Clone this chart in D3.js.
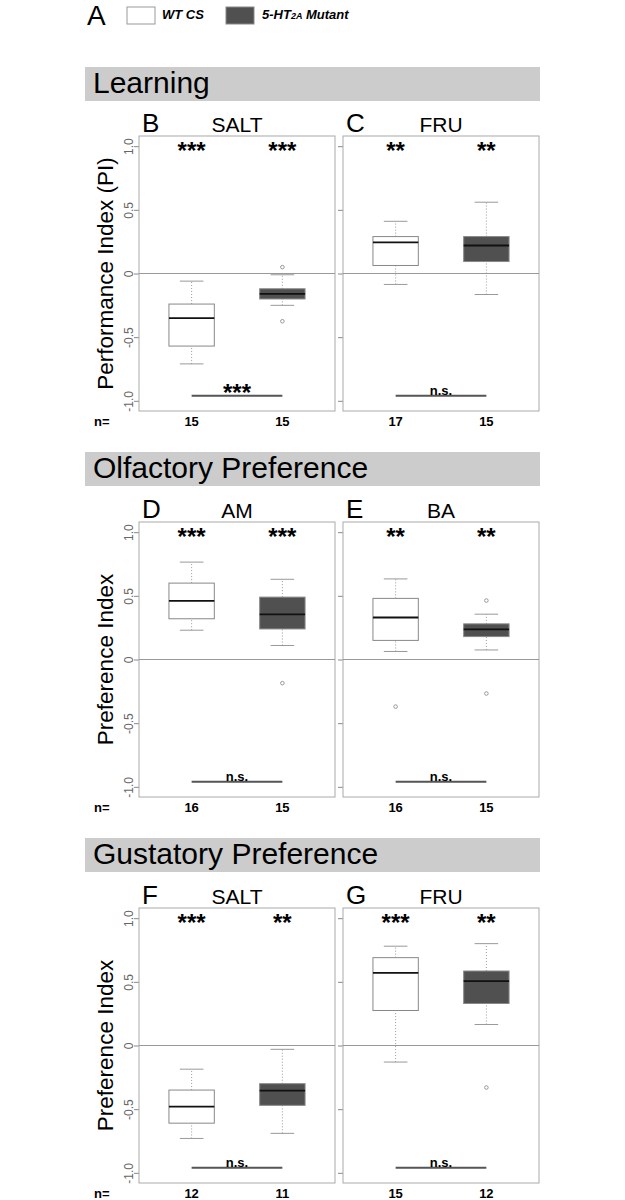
<!DOCTYPE html>
<html>
<head>
    <meta charset="UTF-8">
    <script src="https://d3js.org/d3.v7.min.js"></script>
    <title>5-HT2A boxplots</title>
    <style>
        body{margin:0;background:#fff;}
        text{font-family:"Liberation Sans",Arial,sans-serif;}
    </style>
</head>
<body>
<div id="container"></div>
</body>
<script>
    // data
    var sections=["Learning","Olfactory Preference","Gustatory Preference"]
    var panelLetters=["B","C","D","E","F","G"]
    var panelTitles=["SALT","FRU","AM","BA","SALT","FRU"]
    var yTitles=["Performance Index (PI)","Preference Index","Preference Index"]
    var yTicks=[-1,-0.5,0,0.5,1]
    var yTickLabels=["-1.0","-0.5","0","0.5","1.0"]
    // [low whisker, Q1, median, Q3, high whisker]
    var wtStats=[[-0.71,-0.57,-0.35,-0.24,-0.06],[-0.086,0.063,0.245,0.29,0.41],[0.23,0.32,0.46,0.60,0.765],
                 [0.063,0.15,0.33,0.48,0.633],[-0.73,-0.61,-0.48,-0.35,-0.186],[-0.13,0.275,0.57,0.69,0.78]]
    var mutStats=[[-0.25,-0.20,-0.16,-0.12,-0.01],[-0.165,0.094,0.22,0.29,0.56],[0.11,0.24,0.355,0.49,0.63],
                  [0.075,0.18,0.236,0.28,0.356],[-0.69,-0.47,-0.355,-0.30,-0.03],[0.165,0.33,0.505,0.585,0.80]]
    var wtOutliers=[[],[],[],[-0.37],[],[]]
    var mutOutliers=[[0.05,-0.375],[],[-0.186],[0.463,-0.267],[],[-0.33]]
    var wtN=[15,17,16,16,12,15]
    var mutN=[15,15,15,15,11,12]
    var wtStars=["***","**","***","**","***","***"]
    var mutStars=["***","**","***","**","**","**"]
    var compareLabels=["***","n.s.","n.s.","n.s.","n.s.","n.s."]
    var compareY=-0.96

    var width=625,height=1200
    var plotW=196,plotH=275
    var plotLeft=[139,343]
    var rowTop=[136,522,908]
    var barTop=[67,452,838]
    var fills=["#ffffff","#505050"]

    var svg=d3.select('#container').append('svg')
        .attr('width',width)
        .attr('height',height)

    //legend
    svg.append('text').text('A').attr('x',87).attr('y',25).attr('font-size',28)
    svg.append('rect').attr('x',127).attr('y',7).attr('width',28).attr('height',17)
        .attr('fill',fills[0]).attr('stroke','#999')
    svg.append('text').text('WT CS').attr('x',162).attr('y',19)
        .attr('font-size',13).attr('font-weight','bold').attr('font-style','italic')
    svg.append('rect').attr('x',226).attr('y',7).attr('width',28).attr('height',17)
        .attr('fill',fills[1]).attr('stroke','#888')
    var mt=svg.append('text').attr('x',262).attr('y',19)
        .attr('font-size',13).attr('font-weight','bold').attr('font-style','italic')
    mt.append('tspan').text('5-HT')
    mt.append('tspan').text('2A').attr('font-size',9)
    mt.append('tspan').text(' Mutant')

    //section bars
    sections.forEach(function(s,r){
        svg.append('rect').attr('x',85).attr('y',barTop[r]).attr('width',455).attr('height',34).attr('fill','#cccccc')
        svg.append('text').text(s).attr('x',93).attr('y',barTop[r]+26).attr('font-size',30)
    })

    var x=d3.scaleLinear().domain([0.42,2.58]).range([0,plotW])
    var y=d3.scaleLinear().domain([-1.08,1.08]).range([plotH,0])

    panelLetters.forEach(function(letter,i){
        var row=Math.floor(i/2),col=i%2
        var g=svg.append('g').attr('transform','translate('+plotLeft[col]+','+rowTop[row]+')')

        //y axis, labels only on the left column
        var yAxis=d3.axisLeft(y).tickValues(yTicks).tickSize(5)
            .tickFormat(function(d,j){return col==0?yTickLabels[j]:''})
        var ax=g.append('g').call(yAxis)
        ax.select('.domain').remove()
        ax.selectAll('.tick line').attr('stroke','#888')
        ax.selectAll('.tick text')
            .attr('x',0).attr('dy',0)
            .attr('text-anchor','middle')
            .attr('transform','translate(-6,0) rotate(-90)')
            .attr('fill','#666').attr('font-size',12)

        g.append('rect').attr('width',plotW).attr('height',plotH)
            .attr('fill','none').attr('stroke','#aaa')
        g.append('line').attr('x1',0).attr('x2',plotW).attr('y1',y(0)).attr('y2',y(0))
            .attr('stroke','#999')

        var stats=[wtStats[i],mutStats[i]]
        var outs=[wtOutliers[i],mutOutliers[i]]
        var ns=[wtN[i],mutN[i]]
        var stars=[wtStars[i],mutStars[i]]

        stats.forEach(function(s,k){
            var pos=k+1
            //whiskers
            g.append('line').attr('x1',x(pos)).attr('x2',x(pos)).attr('y1',y(s[0])).attr('y2',y(s[1]))
                .attr('stroke','#999').attr('stroke-dasharray','1,2')
            g.append('line').attr('x1',x(pos)).attr('x2',x(pos)).attr('y1',y(s[3])).attr('y2',y(s[4]))
                .attr('stroke','#999').attr('stroke-dasharray','1,2')
            ;[s[0],s[4]].forEach(function(v){
                g.append('line').attr('x1',x(pos-0.13)).attr('x2',x(pos+0.13)).attr('y1',y(v)).attr('y2',y(v))
                    .attr('stroke','#999')
            })
            //box
            g.append('rect').attr('x',x(pos-0.25)).attr('width',x(pos+0.25)-x(pos-0.25))
                .attr('y',y(s[3])).attr('height',y(s[1])-y(s[3]))
                .attr('fill',fills[k]).attr('stroke','#888')
            g.append('line').attr('x1',x(pos-0.25)).attr('x2',x(pos+0.25)).attr('y1',y(s[2])).attr('y2',y(s[2]))
                .attr('stroke','#111').attr('stroke-width',1.8)
            //outliers
            outs[k].forEach(function(v){
                g.append('circle').attr('cx',x(pos)).attr('cy',y(v)).attr('r',1.8)
                    .attr('fill','none').attr('stroke','#999')
            })
            //stars and n
            g.append('text').text(stars[k]).attr('x',x(pos)).attr('y',y(1)+13)
                .attr('text-anchor','middle').attr('font-size',24).attr('font-weight','bold')
            g.append('text').text(ns[k]).attr('x',x(pos)).attr('y',plotH+14.5)
                .attr('text-anchor','middle').attr('font-size',13).attr('font-weight','bold')
        })

        //comparison between groups
        g.append('line').attr('x1',x(1)).attr('x2',x(2)).attr('y1',y(compareY)).attr('y2',y(compareY))
            .attr('stroke','#555').attr('stroke-width',2)
        var big=compareLabels[i]=='***'
        g.append('text').text(compareLabels[i]).attr('x',(x(1)+x(2))/2)
            .attr('y',y(compareY)+(big?5:-1))
            .attr('text-anchor','middle').attr('font-weight','bold').attr('font-size',big?24:13)

        //panel letter and title
        g.append('text').text(letter).attr('x',3).attr('y',-4).attr('font-size',26)
        g.append('text').text(panelTitles[i]).attr('x',plotW/2).attr('y',-4)
            .attr('text-anchor','middle').attr('font-size',21)

        if(col==0){
            g.append('text').text(yTitles[row])
                .attr('transform','translate(-26,'+plotH/2+') rotate(-90)')
                .attr('text-anchor','middle').attr('font-size',22.5)
            g.append('text').text('n=').attr('x',94-plotLeft[0]).attr('y',plotH+14.5)
                .attr('font-size',13).attr('font-weight','bold')
        }
    })
</script>
</html>
